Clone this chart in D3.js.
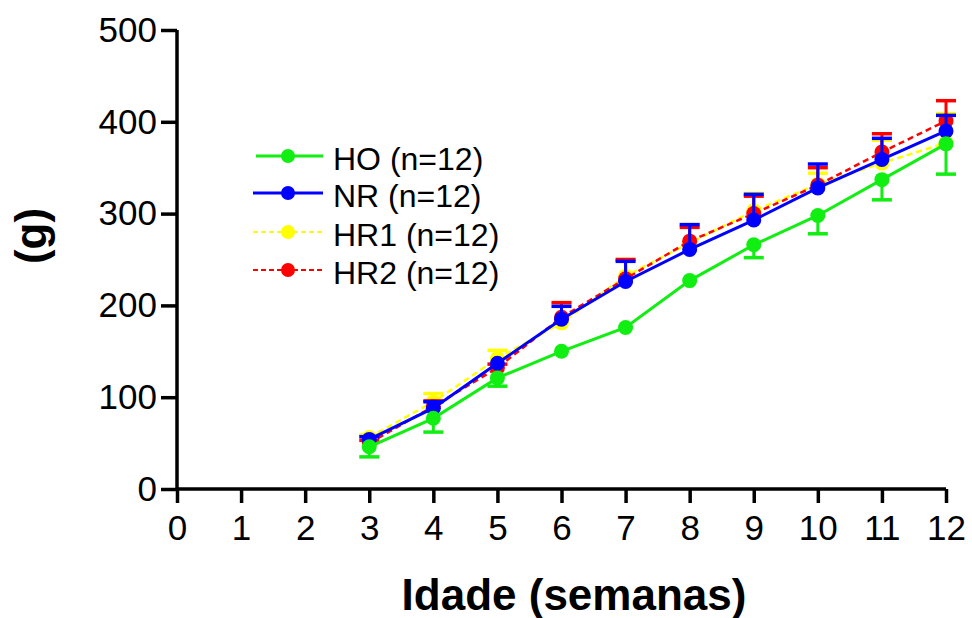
<!DOCTYPE html>
<html><head><meta charset="utf-8">
<script src="https://cdn.jsdelivr.net/npm/d3@7"></script>
<style>body{margin:0;background:#fff}svg{display:block}</style>
</head><body>
<svg id="c" width="972" height="618"></svg>
<script>
const weeks = [3,4,5,6,7,8,9,10,11,12];
const xTicks = [0,1,2,3,4,5,6,7,8,9,10,11,12];
const yTicks = [0,100,200,300,400,500];
const hoMean  = [46,77,121,150,176,227,266,298,337,376];
const hoSem   = [11,15,9,0,0,0,14,20,22,33];
const nrMean  = [54,88,137,185,226,261,293,328,359,390];
const nrSem   = [3,7,0,14,22,27,28,26,23,17];
const hr1Mean = [56,95,142,181,232,268,303,332,355,377];
const hr1Sem  = [3,9,9,22,18,20,19,12,25,32];
const hr2Mean = [50,90,132,187,229,270,300,331,367,401];
const hr2Sem  = [3,6,4,16,21,15,19,19,20,22];
const seriesNames = ["HO (n=12)","NR (n=12)","HR1 (n=12)","HR2 (n=12)"];

const series = [
  {name:seriesNames[2], mean:hr1Mean, sem:hr1Sem, color:"#ffff00", dash:"6,4", w:2.5, dir:1},
  {name:seriesNames[3], mean:hr2Mean, sem:hr2Sem, color:"#ff0000", dash:"6,4", w:2.5, dir:1},
  {name:seriesNames[1], mean:nrMean, sem:nrSem, color:"#0000ff", dash:null, w:3, dir:1},
  {name:seriesNames[0], mean:hoMean, sem:hoSem, color:"#11ee11", dash:null, w:3, dir:-1}
];
const svg = d3.select("#c");
const x = d3.scaleLinear().domain([0,12]).range([177,946]);
const y = d3.scaleLinear().domain([0,500]).range([489,30]);
const font = "Liberation Sans, Arial, sans-serif";

// axes
const ya = svg.append("g").attr("transform","translate(177,0)")
  .call(d3.axisLeft(y).tickValues(yTicks).tickSize(16).tickPadding(4));
const xa = svg.append("g").attr("transform","translate(0,489)")
  .call(d3.axisBottom(x).tickValues(xTicks).tickSize(14).tickPadding(12));
[ya,xa].forEach(a=>{
  a.select(".domain").attr("stroke","#000").attr("stroke-width",3.5);
  a.selectAll(".tick line").attr("stroke","#000").attr("stroke-width",3.5);
  a.selectAll("text").attr("font-family",font).attr("fill","#000");
});
ya.selectAll("text").attr("font-size",35);
xa.selectAll("text").attr("font-size",35);
ya.select(".domain").attr("d","M0,489V30");
xa.select(".domain").attr("d","M177,0H946");

// series
const line = d3.line().x((d,i)=>x(weeks[i])).y(d=>y(d));
series.forEach(s=>{
  const g = svg.append("g");
  weeks.forEach((wk,i)=>{
    if(s.sem[i]<=0) return;
    const yEnd = y(s.mean[i] + s.dir*s.sem[i]);
    g.append("line").attr("x1",x(wk)).attr("x2",x(wk)).attr("y1",y(s.mean[i])).attr("y2",yEnd)
      .attr("stroke",s.color).attr("stroke-width",3);
    g.append("line").attr("x1",x(wk)-10).attr("x2",x(wk)+10).attr("y1",yEnd).attr("y2",yEnd)
      .attr("stroke",s.color).attr("stroke-width",3.5);
  });
  g.append("path").attr("d",line(s.mean)).attr("fill","none").attr("stroke",s.color)
    .attr("stroke-width",s.w).attr("stroke-dasharray",s.dash);
  g.selectAll("circle").data(s.mean).join("circle")
    .attr("cx",(d,i)=>x(weeks[i])).attr("cy",d=>y(d)).attr("r",7.5).attr("fill",s.color);
});

// legend
const legend = [series[3],series[2],series[0],series[1]];
const ly = [156,193,232,270];
legend.forEach((s,i)=>{
  const g = svg.append("g");
  g.append("line").attr("x1",i===0?256:253).attr("x2",323).attr("y1",ly[i]).attr("y2",ly[i])
    .attr("stroke",s.color).attr("stroke-width",s.dash?2:3).attr("stroke-dasharray",s.dash?"5,3":null);
  g.append("circle").attr("cx",288).attr("cy",ly[i]).attr("r",7).attr("fill",s.color);
  g.append("text").attr("x",333).attr("y",ly[i]+14).attr("font-family",font).attr("font-size",32)
    .attr("fill","#000").text(s.name);
});

// axis titles
svg.append("text").attr("x",574).attr("y",610).attr("text-anchor","middle")
  .attr("font-family",font).attr("font-weight","bold").attr("font-size",44).text("Idade (semanas)");
svg.append("text").attr("transform","translate(46,236) rotate(-90)").attr("text-anchor","middle")
  .attr("font-family",font).attr("font-weight","bold").attr("font-size",44).text("(g)");
</script>
</body></html>
